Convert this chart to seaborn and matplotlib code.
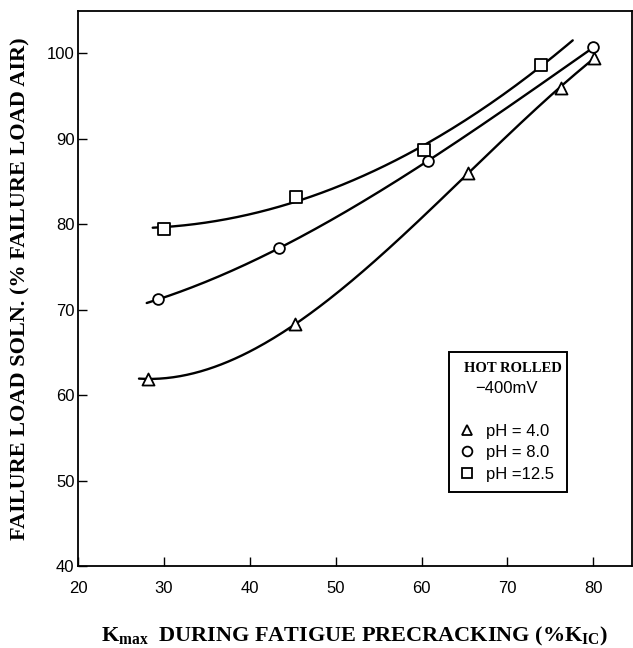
import numpy as np
import pandas as pd
import matplotlib
matplotlib.use("Agg")
import matplotlib.pyplot as plt
import matplotlib.transforms as mtransforms
from matplotlib.lines import Line2D
import seaborn as sns

# ---- data ----
series_labels = ["pH = 4.0", "pH = 8.0", "pH =12.5"]
series_markers = ["^", "o", "s"]

tri_x = [28.2, 45.3, 65.4, 76.2, 80.1]
tri_y = [61.9, 68.3, 86.0, 96.0, 99.5]

circ_x = [29.3, 43.4, 60.7, 80.0]
circ_y = [71.2, 77.2, 87.4, 100.7]

sq_x = [30.0, 45.4, 60.3, 73.9]
sq_y = [79.5, 83.2, 88.7, 98.7]

# extent of each hand-drawn fitted curve
curve_start = [27.1, 28.0, 28.7]
curve_end = [80.1, 80.0, 77.6]
curve_degree = [3, 3, 2]

x_ticks = [20, 30, 40, 50, 60, 70, 80]
y_ticks = [40, 50, 60, 70, 80, 90, 100]

# ---- figure ----
sns.set_theme(style="ticks")
plt.rcParams["font.family"] = ["Liberation Sans Narrow", "Liberation Sans", "DejaVu Sans"]
plt.rcParams["mathtext.fontset"] = "custom"
plt.rcParams["mathtext.rm"] = "Liberation Serif:bold"
plt.rcParams["mathtext.bf"] = "Liberation Serif:bold"
plt.rcParams["mathtext.it"] = "Liberation Serif:bold"
plt.rcParams["text.color"] = "black"
plt.rcParams["axes.labelcolor"] = "black"
plt.rcParams["xtick.color"] = "black"
plt.rcParams["ytick.color"] = "black"
plt.rcParams["legend.title_fontsize"] = 10.5

fig = plt.figure(figsize=(6.33, 6.48), dpi=100)
ax = fig.add_axes([78 / 633, 1 - 566 / 648, 554 / 633, 555.3 / 648])

xs_all = [tri_x, circ_x, sq_x]
ys_all = [tri_y, circ_y, sq_y]

for xs, ys, x0, x1, deg in zip(xs_all, ys_all, curve_start, curve_end, curve_degree):
    coef = np.polyfit(xs, ys, deg)
    xx = np.linspace(x0, x1, 200)
    df = pd.DataFrame({"x": xx, "y": np.polyval(coef, xx)})
    sns.lineplot(data=df, x="x", y="y", ax=ax, color="black", linewidth=1.7,
                 estimator=None, sort=False, zorder=2)

marker_sizes = [75, 60, 70]
for xs, ys, m, s in zip(xs_all, ys_all, series_markers, marker_sizes):
    sns.scatterplot(x=xs, y=ys, ax=ax, marker=m, s=s, color="white",
                    edgecolor="black", linewidth=1.3, zorder=3, legend=False)

ax.set_xlim(20, 84.5)
ax.set_ylim(40, 105)
ax.set_xticks(x_ticks)
ax.set_yticks(y_ticks)
ax.tick_params(axis="both", direction="in", length=6.5, width=1.0,
               labelsize=12, colors="black", labelcolor="black", top=False, right=False)
ax.tick_params(axis="x", pad=11)
ax.tick_params(axis="y", pad=2.5)
for sp in ax.spines.values():
    sp.set_visible(True)
    sp.set_linewidth(1.3)
    sp.set_color("black")

serif_bold = dict(family="Liberation Serif", weight="bold", size=16, color="black")
ax.set_xlabel(r"$\mathbf{K_{max}}$  DURING FATIGUE PRECRACKING (%$\mathbf{K_{IC}}$)",
              fontdict=serif_bold, labelpad=21)
ax.set_ylabel("FAILURE LOAD SOLN. (% FAILURE LOAD AIR)", fontdict=serif_bold, labelpad=12)

# legend
handles = [Line2D([], [], linestyle="none", marker=None),
           Line2D([], [], linestyle="none", marker=None)]
labels = ["\u2212400mV", ""]
for m, lab in zip(series_markers, series_labels):
    handles.append(Line2D([], [], linestyle="none", marker=m, markersize=7,
                          markerfacecolor="white", markeredgecolor="black",
                          markeredgewidth=1.3))
    labels.append(lab)

leg = ax.legend(handles, labels, loc="upper left", bbox_to_anchor=(0.6697, 0.3854),
                borderaxespad=0, frameon=True, fancybox=False, framealpha=1,
                edgecolor="black", fontsize=12, handlelength=1.0, handletextpad=0.6,
                labelspacing=0.38, borderpad=0.6,
                title="HOT ROLLED", alignment="left",
                title_fontproperties=dict(family="Liberation Serif", weight="bold", size=10.5))
leg.get_frame().set_linewidth(1.4)
for t in leg.get_texts():
    t.set_color("black")
leg.get_title().set_color("black")
# the "-400mV" line starts left of the entry labels, as in the reference
mv = leg.get_texts()[0]
mv.set_transform(mv.get_transform() +
                 mtransforms.ScaledTranslation(-0.10, 0, fig.dpi_scale_trans))
# shift title slightly right of the frame edge
tt = leg.get_title()
tt.set_transform(tt.get_transform() +
                 mtransforms.ScaledTranslation(0.05, 0, fig.dpi_scale_trans))

fig.savefig("out.png", dpi=100)
